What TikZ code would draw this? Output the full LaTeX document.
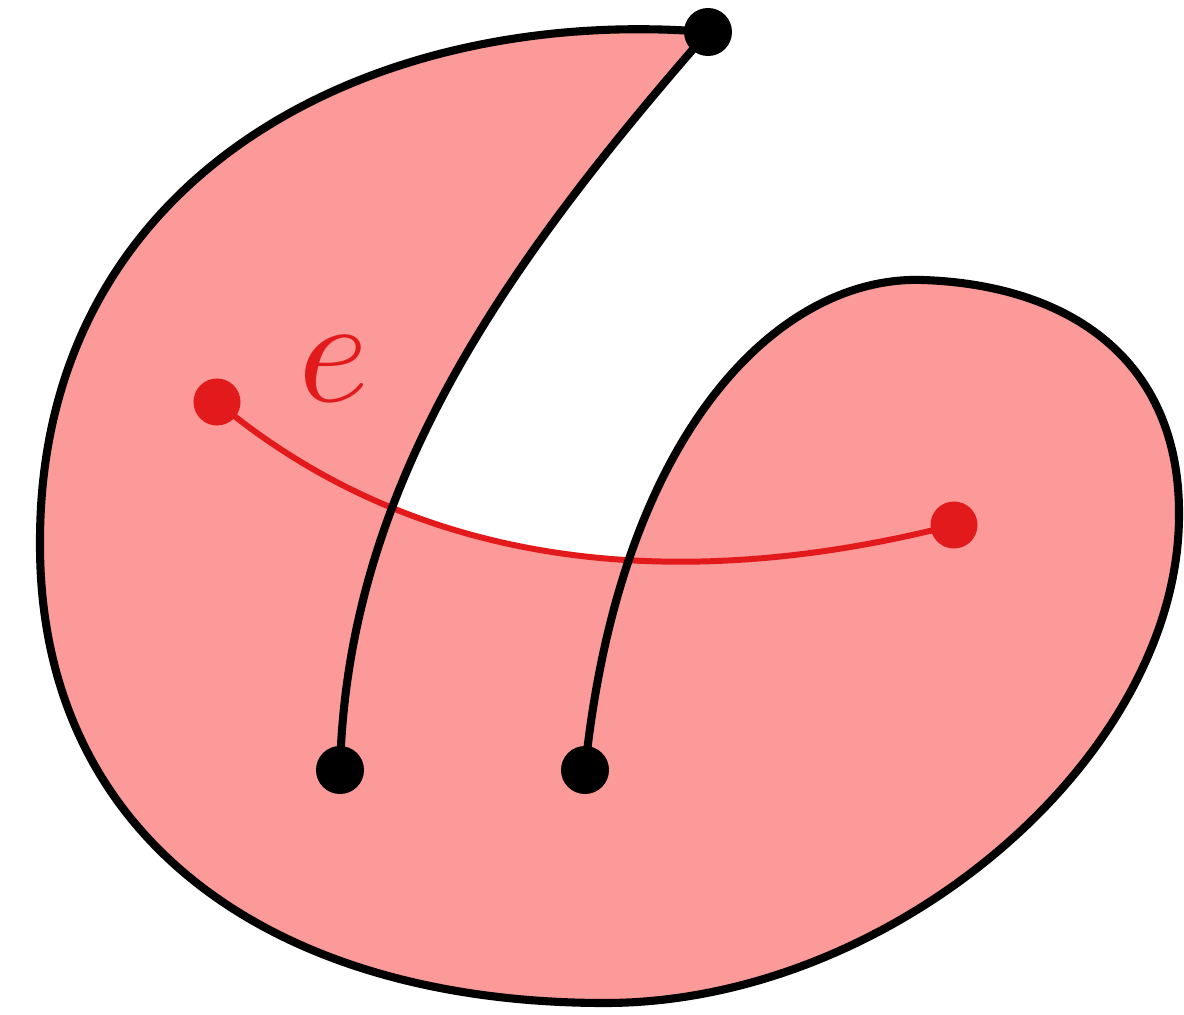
\documentclass[tikz,border=0pt]{standalone}
\usepackage{amsmath,amssymb}
\usetikzlibrary{calc}
\definecolor{palered}{HTML}{FB9A99}
\definecolor{edgered}{HTML}{E31A1C}

\begin{document}
\begin{tikzpicture}[
  x=0.01cm, y=-0.01cm,
  line width=2.3pt
]

\useasboundingbox (0,0) rectangle (1184,1015);

% ── Coordinates ──
\coordinate (top) at (708,32);
\coordinate (west) at (40,545);
\coordinate (south) at (605,1003);
\coordinate (east) at (1179,515);
\coordinate (lobe) at (923,280);
\coordinate (footL) at (340,770);
\coordinate (footR) at (585,770);
% end points of the red edge e
\coordinate (eA) at (217,402);
\coordinate (eB) at (954,525);

% ── Filled region ──
\fill[palered]
  (top) .. controls (370,5) and (38,175) .. (west)
  .. controls (40,840) and (275,1003) .. (south)
  .. controls (892,1003) and (1179,757) .. (east)
  .. controls (1180,360) and (1070,285) .. (lobe)
  .. controls (780,275) and (620,430) .. (footR)
  -- (footL)
  .. controls (347,490) and (500,270) .. (top)
  -- cycle;
% the notch is filled up to the red edge
\fill[palered] (eA) .. controls (430,580) and (700,590) .. (eB)
  -- (954,800) -- (217,800) -- cycle;

% ── Red edge e ──
\draw[edgered, line width=1.7pt] (eA) .. controls (430,580) and (700,590) .. (eB);

% ── Boundary ──
\draw (top) .. controls (370,5) and (38,175) .. (west)
  .. controls (40,840) and (275,1003) .. (south)
  .. controls (892,1003) and (1179,757) .. (east)
  .. controls (1180,360) and (1070,285) .. (lobe)
  .. controls (780,275) and (620,430) .. (footR);
\draw (top) .. controls (500,270) and (347,490) .. (footL);

% ── Points ──
\fill (top) circle (0.24cm);
\fill (footL) circle (0.24cm);
\fill (footR) circle (0.24cm);
\fill[edgered] (eA) circle (0.235cm);
\fill[edgered] (eB) circle (0.235cm);

% ── Label ──
\node[edgered, scale=4.3] (elabel) at (334,369) {$e$};

\end{tikzpicture}
\end{document}
